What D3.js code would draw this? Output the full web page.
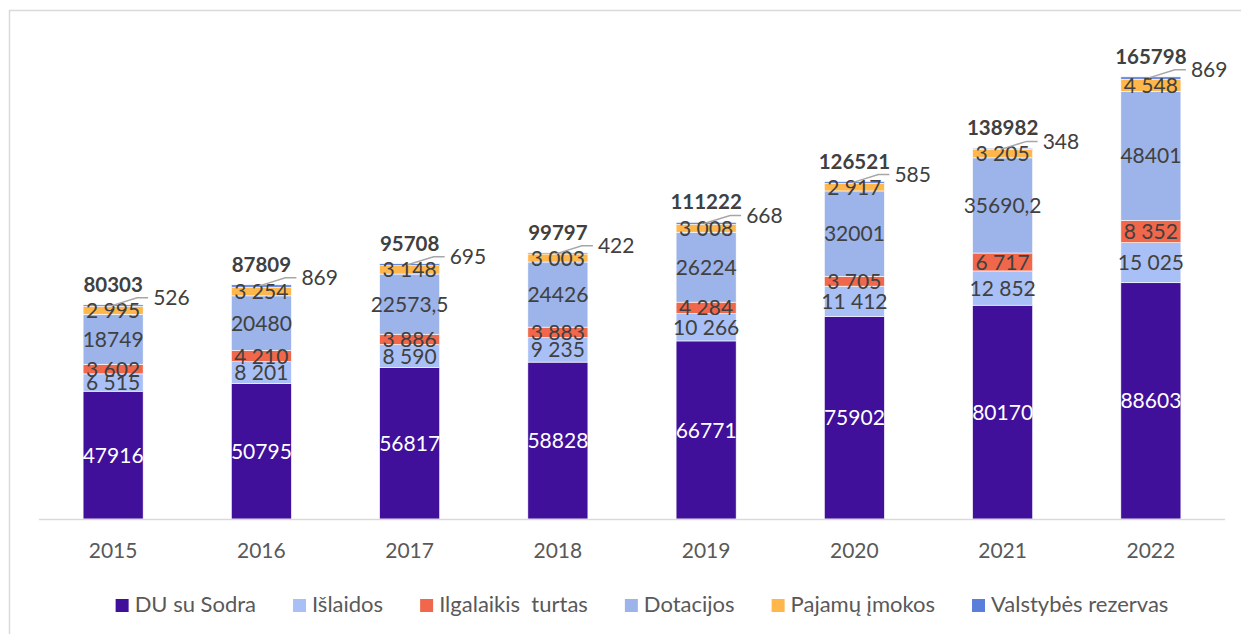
<!DOCTYPE html>
<html lang="lt">
<head>
<meta charset="utf-8">
<title>Biudžeto struktūra</title>
<script src="https://d3js.org/d3.v7.min.js"></script>
<style>
  body { margin: 0; background: #fff; }
  text { font-family: Lato, "Noto Sans", sans-serif; }
</style>
</head>
<body>
<svg id="svg" width="1241" height="634"></svg>
<script>
var years = ["2015", "2016", "2017", "2018", "2019", "2020", "2021", "2022"];
var seriesNames = ["DU su Sodra", "Išlaidos", "Ilgalaikis  turtas", "Dotacijos", "Pajamų įmokos", "Valstybės rezervas"];
var duSuSodra = [47916, 50795, 56817, 58828, 66771, 75902, 80170, 88603];
var islaidos = [6515, 8201, 8590, 9235, 10266, 11412, 12852, 15025];
var ilgalaikisTurtas = [3602, 4210, 3886, 3883, 4284, 3705, 6717, 8352];
var dotacijos = [18749, 20480, 22573.5, 24426, 26224, 32001, 35690.2, 48401];
var pajamuImokos = [2995, 3254, 3148, 3003, 3008, 2917, 3205, 4548];
var rezervas = [526, 869, 695, 422, 668, 585, 348, 869];
var totals = [80303, 87809, 95708, 99797, 111222, 126521, 138982, 165798];

var colors = ["#40109a", "#a9c0f7", "#f0674b", "#9cb4e9", "#ffb64a", "#5a7fda"];
// which series get a space as thousands separator (as in the source)
var spaced = [false, true, true, false, true, false];

var allSeries = [duSuSodra, islaidos, ilgalaikisTurtas, dotacijos, pajamuImokos, rezervas];
var keys = ["s0", "s1", "s2", "s3", "s4", "s5"];
var rows = years.map(function(y, i) {
    var r = {year: y, total: totals[i]};
    allSeries.forEach(function(s, k) { r[keys[k]] = s[i]; });
    return r;
});

var fmtSpace = function(v) { return d3.format(",")(v).replace(/,/g, " ").replace(".", ","); };
var fmtPlain = function(v) { return String(v).replace(".", ","); };

var svg = d3.select("#svg");

// chart frame
svg.append("rect")
    .attr("x", 9.5).attr("y", 10.5)
    .attr("width", 1260).attr("height", 660)
    .attr("fill", "none").attr("stroke", "#d9d9d9").attr("stroke-width", 1.5);

var x = d3.scaleBand().domain(years).range([39, 1225]).paddingInner(0.595).paddingOuter(0.2975);
var y = d3.scaleLinear().domain([0, 180000]).range([519, 39]);

var stacked = d3.stack().keys(keys)(rows);

var groups = svg.selectAll("g.layer")
    .data(stacked)
    .enter().append("g")
    .attr("class", "layer")
    .attr("fill", function(d, i) { return colors[i]; });

groups.selectAll("rect")
    .data(function(d) { return d; })
    .enter().append("rect")
    .attr("x", function(d) { return x(d.data.year); })
    .attr("width", x.bandwidth())
    .attr("y", function(d) { return y(d[1]); })
    .attr("height", function(d) { return y(d[0]) - y(d[1]); })
    .attr("stroke", "#ffffff").attr("stroke-width", 0.6);

// axis line
svg.append("line")
    .attr("x1", 39).attr("x2", 1225)
    .attr("y1", 519.5).attr("y2", 519.5)
    .attr("stroke", "#d9d9d9").attr("stroke-width", 1.5);

svg.selectAll("text.year")
    .data(years)
    .enter().append("text")
    .attr("class", "year")
    .attr("x", function(d) { return x(d) + x.bandwidth() / 2; })
    .attr("y", 558)
    .attr("text-anchor", "middle")
    .attr("font-size", 21)
    .attr("fill", "#595959")
    .text(function(d) { return d; });

// segment labels (all but the reserve)
stacked.slice(0, 5).forEach(function(layer, k) {
    svg.selectAll("text.seg" + k)
        .data(layer)
        .enter().append("text")
        .attr("class", "seg" + k)
        .attr("x", function(d) { return x(d.data.year) + x.bandwidth() / 2; })
        .attr("y", function(d) { return (y(d[0]) + y(d[1])) / 2; })
        .attr("dy", "0.36em")
        .attr("text-anchor", "middle")
        .attr("font-size", 21)
        .attr("fill", k === 0 ? "#ffffff" : "#404040")
        .text(function(d) { var v = d[1] - d[0]; return spaced[k] ? fmtSpace(v) : fmtPlain(Math.round(v * 10) / 10); });
});

// reserve labels with leader lines
var resLayer = stacked[5];
svg.selectAll("path.leader")
    .data(resLayer)
    .enter().append("path")
    .attr("class", "leader")
    .attr("d", function(d) {
        var cx = x(d.data.year) + x.bandwidth() / 2, ty = y(d[1]) + 1;
        return "M" + (cx - 2) + "," + ty + "L" + (cx + 24) + "," + (ty - 8) + "L" + (cx + 35) + "," + (ty - 8);
    })
    .attr("fill", "none").attr("stroke", "#a6a6a6").attr("stroke-width", 1.5);

svg.selectAll("text.res")
    .data(resLayer)
    .enter().append("text")
    .attr("class", "res")
    .attr("x", function(d) { return x(d.data.year) + x.bandwidth() / 2 + 40; })
    .attr("y", function(d) { return y(d[1]) - 7; })
    .attr("dy", "0.36em")
    .attr("font-size", 21)
    .attr("fill", "#404040")
    .text(function(d) { return fmtPlain(d[1] - d[0]); });

// totals
svg.selectAll("text.total")
    .data(rows)
    .enter().append("text")
    .attr("class", "total")
    .attr("x", function(d) { return x(d.year) + x.bandwidth() / 2; })
    .attr("y", function(d) { return y(d.total) - 13; })
    .attr("text-anchor", "middle")
    .attr("font-size", 20.5)
    .attr("font-weight", "bold")
    .attr("fill", "#404040")
    .text(function(d) { return d.total; });

// legend
var legend = svg.append("g");
var lx = 0;
seriesNames.forEach(function(name, i) {
    var g = legend.append("g").attr("transform", "translate(" + lx + ",0)");
    g.append("rect").attr("x", 0).attr("y", -12).attr("width", 13).attr("height", 13).attr("fill", colors[i]);
    var t = g.append("text").attr("x", 19).attr("y", 0).attr("dy", "0.05em")
        .attr("font-size", 22).attr("fill", "#595959")
        .style("white-space", "pre")
        .text(name);
    lx += 19 + t.node().getComputedTextLength() + 37;
});
lx -= 37;
legend.attr("transform", "translate(" + (642 - lx / 2) + ",611)");
</script>
</body>
</html>
